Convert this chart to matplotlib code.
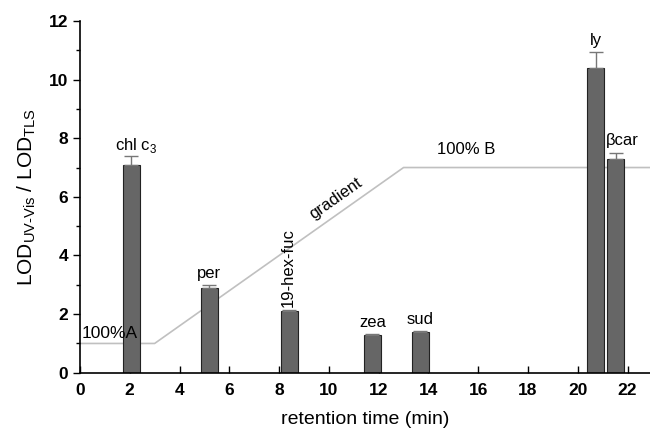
import matplotlib.pyplot as plt
from matplotlib.ticker import MultipleLocator

plt.rcParams['font.family'] = ['Liberation Sans', 'DejaVu Sans']
plt.rcParams['mathtext.fontset'] = 'custom'
plt.rcParams['mathtext.rm'] = 'Liberation Sans'

# pigments: retention time, LOD ratio, upper error
names = ['chl c$_3$', 'per', '19-hex-fuc', 'zea', 'sud', 'ly', 'βcar']
rt = [2.07, 5.19, 8.41, 11.75, 13.68, 20.72, 21.53]
ratio = [7.1, 2.9, 2.1, 1.3, 1.39, 10.4, 7.29]
err = [0.3, 0.1, 0.03, 0.03, 0.05, 0.53, 0.21]

# solvent gradient profile (drawn on the same y scale)
grad_t = [0, 3, 13, 22.9]
grad_y = [1, 1, 7, 7]

fig = plt.figure(figsize=(6.5, 4.36), dpi=100)
ax = fig.add_axes([0.123, 0.145, 0.877, 0.807])

ax.plot(grad_t, grad_y, color='#c0c0c0', lw=1.2, zorder=1)
ax.bar(rt, ratio, width=0.68, color='#666666', edgecolor='#222222', lw=0.8, zorder=2)
ax.errorbar(rt, ratio, yerr=[[0] * len(err), err], fmt='none', ecolor='#777777',
            elinewidth=1, capsize=5, capthick=1, zorder=3)

# labels above the bars
fs = 12
for i, n in enumerate(names):
    top = ratio[i] + err[i]
    if n == '19-hex-fuc':
        ax.text(rt[i] - 0.05, top + 0.12, n, rotation=90, ha='center', va='bottom', fontsize=fs)
    elif n == 'ly':
        ax.text(rt[i], top + 0.15, n, ha='center', va='bottom', fontsize=fs)
    elif n.startswith('chl'):
        ax.text(rt[i] + 0.2, top + 0.02, n, ha='center', va='bottom', fontsize=fs)
    elif n == 'βcar':
        ax.text(rt[i] + 0.25, top + 0.15, n, ha='center', va='bottom', fontsize=fs)
    else:
        ax.text(rt[i], top + 0.12, n, ha='center', va='bottom', fontsize=fs)

ax.text(0.05, 1.35, '100%A', fontsize=12.5, ha='left', va='center', zorder=4)
ax.text(15.5, 7.6, '100% B', fontsize=fs, ha='center', va='center')
ax.text(10.26, 5.95, 'gradient', fontsize=fs, rotation=35, ha='center', va='center')

ax.set_xlim(0, 22.9)
ax.set_ylim(0, 12)
ax.xaxis.set_major_locator(MultipleLocator(2))
ax.yaxis.set_major_locator(MultipleLocator(2))
ax.yaxis.set_minor_locator(MultipleLocator(1))
ax.tick_params(axis='x', direction='in', length=5, width=1, labelsize=12.5, pad=7)
ax.tick_params(axis='y', which='major', direction='out', length=5, width=1, labelsize=12.5)
ax.tick_params(axis='y', which='minor', direction='out', length=3, width=1)
for lab in ax.get_xticklabels() + ax.get_yticklabels():
    lab.set_fontweight('bold')

ax.spines['top'].set_visible(False)
ax.spines['right'].set_visible(False)
ax.spines['left'].set_linewidth(1.2)
ax.spines['bottom'].set_linewidth(1.2)

ax.set_xlabel('retention time (min)', fontsize=14, labelpad=10)
ax.set_ylabel('LOD$_{\\mathrm{UV\\text{-}Vis}}$ / LOD$_{\\mathrm{TLS}}$', fontsize=15, labelpad=8)

fig.savefig('out.png', dpi=100)
